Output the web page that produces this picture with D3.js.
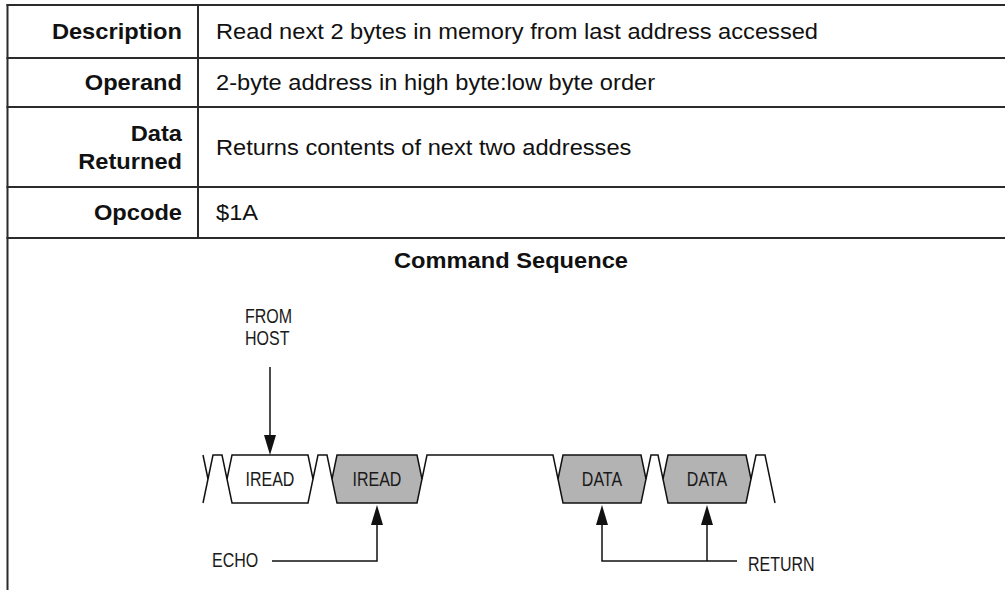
<!DOCTYPE html>
<html><head><meta charset="utf-8">
<script src="https://cdn.jsdelivr.net/npm/d3@7"></script>
<style>html,body{margin:0;padding:0;background:#fff;overflow:hidden}svg{display:block}</style>
</head><body>
<svg id="c" width="1005" height="590"></svg>
<script>
// ---- data ----
const rowLabels = [["Description"], ["Operand"], ["Data", "Returned"], ["Opcode"]];
const rowValues = [
  "Read next 2 bytes in memory from last address accessed",
  "2-byte address in high byte:low byte order",
  "Returns contents of next two addresses",
  "$1A"
];
const rowHeights = [53, 49, 80, 51];
const sectionTitle = "Command Sequence";

// timing diagram (time units = transition widths)
const packetLabels = ["IREAD", "IREAD", "DATA", "DATA"];
const packetShaded = [false, true, true, true];
const packetStart = [2.9, 13.4, 36, 46.5];
const packetEnd = [10.5, 21.4, 43.8, 54.3];
const leadTransition = 0;
const tailTransition = 56.2;
const timeSpan = [0, 57.2];
const hostLabel = ["FROM", "HOST"];
const echoLabel = "ECHO";
const returnLabel = "RETURN";
const hostPackets = [0];
const echoPackets = [1];
const returnPackets = [2, 3];

// ---- drawing ----
const svg = d3.select("#c");
const W = 1005, H = 590;
const left = 7.5, colX = 198, tableTop = 5, tableBottom = 238;
const lineCol = "#2b2b2b";
const FONT = "'Liberation Sans', Arial, Helvetica, sans-serif";
const stretch = 1.1;

const cum = [0];
rowHeights.forEach(h => cum.push(cum[cum.length - 1] + h));
const yRow = d3.scaleLinear().domain([0, cum[cum.length - 1]]).range([tableTop, tableBottom]);

function stretchText(sel, factor, anchor, x) {
  sel.each(function () {
    const len = this.getComputedTextLength();
    const t = len * factor;
    d3.select(this).attr("textLength", t).attr("lengthAdjust", "spacingAndGlyphs");
    let x0 = x;
    if (anchor === "end") x0 = x - t;
    else if (anchor === "middle") x0 = x - t / 2;
    d3.select(this).attr("x", x0).attr("text-anchor", "start");
  });
}

// horizontal table lines
const g = svg.append("g");
g.selectAll("line.h").data(cum).join("line")
  .attr("x1", left - 1).attr("x2", W)
  .attr("y1", d => yRow(d)).attr("y2", d => yRow(d))
  .attr("stroke", lineCol).attr("stroke-width", 2);
// left border
g.append("line").attr("x1", left).attr("x2", left).attr("y1", tableTop - 1).attr("y2", H)
  .attr("stroke", lineCol).attr("stroke-width", 2);
// column divider
g.append("line").attr("x1", colX).attr("x2", colX).attr("y1", tableTop).attr("y2", tableBottom)
  .attr("stroke", lineCol).attr("stroke-width", 2);

const fs = 21.5;
rowLabels.forEach((lines, i) => {
  const y0 = yRow(cum[i]), y1 = yRow(cum[i + 1]);
  const mid = (y0 + y1) / 2;
  const lh = 28;
  lines.forEach((txt, j) => {
    const base = mid + 7.5 + (j - (lines.length - 1) / 2) * lh;
    const t = g.append("text").attr("y", base).attr("font-family", FONT)
      .attr("font-weight", "bold").attr("font-size", fs).attr("fill", "#111").text(txt);
    stretchText(t, stretch, "end", 182);
  });
  const v = g.append("text").attr("y", mid + 7.5).attr("font-family", FONT)
    .attr("font-size", fs).attr("fill", "#111").text(rowValues[i]);
  stretchText(v, stretch, "start", 216);
});

const title = g.append("text").attr("y", 268).attr("font-family", FONT)
  .attr("font-weight", "bold").attr("font-size", fs).attr("fill", "#111").text(sectionTitle);
stretchText(title, stretch, "middle", 511);

// timing diagram
const x = d3.scaleLinear().domain(timeSpan).range([203, 775]);
const yTop = 455, yBot = 503, yMid = (yTop + yBot) / 2;
const dg = svg.append("g").attr("fill", "none").attr("stroke", "#111").attr("stroke-width", 1.5)
  .attr("stroke-linejoin", "miter");
const line = d3.line().x(d => x(d[0])).y(d => d[1]);

// packets
packetStart.forEach((s, i) => {
  const e = packetEnd[i];
  const pts = [[s, yTop], [e, yTop], [e + 0.5, yMid], [e, yBot], [s, yBot], [s - 0.5, yMid]];
  dg.append("path").attr("d", line(pts) + "Z")
    .attr("fill", packetShaded[i] ? "#b3b3b3" : "#fff");
});
// lead transition
dg.append("path").attr("d", line([[leadTransition, yTop], [leadTransition + 0.5, yMid]]));
dg.append("path").attr("d", line([[leadTransition, yBot], [leadTransition + 0.5, yMid]]));
// idle segments
const ends = [leadTransition].concat(packetEnd);
const starts = packetStart.concat([tailTransition + 1]);
ends.forEach((e, i) => {
  const s = starts[i];
  const pts = [[e + 0.5, yMid], [e + 1, yTop], [s - 1, yTop]];
  if (i < packetStart.length) pts.push([s - 0.5, yMid]);
  else pts.push([s, yBot]);
  dg.append("path").attr("d", line(pts));
});

const dfs = 19.5, squeeze = 0.82;
// packet labels
packetStart.forEach((s, i) => {
  const cx = x((s + packetEnd[i]) / 2);
  const t = svg.append("text").attr("y", 486).attr("font-family", FONT)
    .attr("font-size", dfs).attr("fill", "#1a1a1a").text(packetLabels[i]);
  stretchText(t, squeeze, "middle", cx);
});

// arrows
function arrowHead(xc, tip, dir) { // dir: 1 = pointing down, -1 = pointing up
  const hl = 20, hw = 6;
  svg.append("path")
    .attr("d", `M${xc},${tip} L${xc - hw},${tip - dir * hl} L${xc + hw},${tip - dir * hl} Z`)
    .attr("fill", "#111");
}
const pc = i => x((packetStart[i] + packetEnd[i]) / 2);

// FROM HOST
hostPackets.forEach(i => {
  const cx = pc(i);
  dg.append("line").attr("x1", cx).attr("x2", cx).attr("y1", 367).attr("y2", yTop - 10);
  arrowHead(cx, yTop, 1);
});
hostLabel.forEach((txt, j) => {
  const t = svg.append("text").attr("y", 323 + j * 22).attr("font-family", FONT)
    .attr("font-size", dfs).attr("fill", "#1a1a1a").text(txt);
  stretchText(t, squeeze, "start", 245);
});

// ECHO
const yAnn = 561;
echoPackets.forEach(i => {
  const cx = pc(i);
  dg.append("path").attr("d", `M272,${yAnn} H${cx} V${yBot + 12}`);
  arrowHead(cx, yBot + 2, -1);
});
const et = svg.append("text").attr("y", 567).attr("font-family", FONT)
  .attr("font-size", dfs).attr("fill", "#1a1a1a").text(echoLabel);
stretchText(et, squeeze, "start", 212);

// RETURN
const rx = returnPackets.map(pc);
dg.append("path").attr("d", `M${rx[0]},${yBot + 12} V${yAnn} H737`);
rx.slice(1).forEach(cx => dg.append("line").attr("x1", cx).attr("x2", cx).attr("y1", yAnn).attr("y2", yBot + 12));
rx.forEach(cx => arrowHead(cx, yBot + 2, -1));
const rt = svg.append("text").attr("y", 571).attr("font-family", FONT)
  .attr("font-size", dfs).attr("fill", "#1a1a1a").text(returnLabel);
stretchText(rt, squeeze, "start", 748);
</script>
</body></html>
